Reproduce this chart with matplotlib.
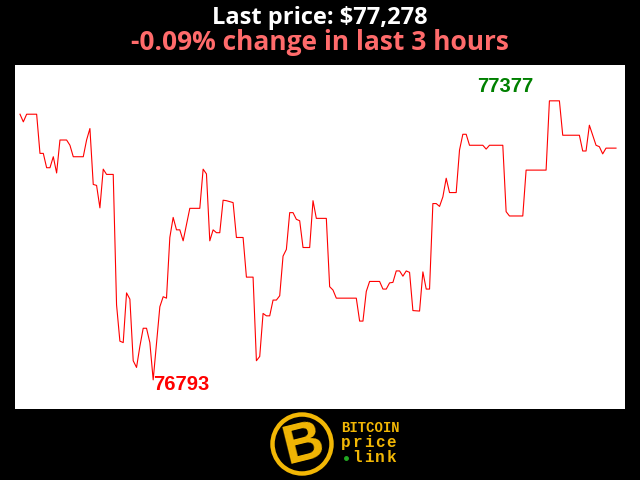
import matplotlib
matplotlib.use('Agg')
import matplotlib.pyplot as plt
from matplotlib.patches import Circle

# BTC price over the last 3 hours (minute index, price) at the turning points
minutes = [0, 1, 2, 5, 6, 7, 8, 9, 10, 11, 12, 14, 15, 16, 19, 20, 21, 22, 23, 24,
           25, 26, 28, 29, 30, 31, 32, 33, 34, 35, 36, 37, 38, 39, 40, 42, 43, 44, 45, 46,
           47, 48, 49, 51, 54, 55, 56, 57, 58, 59, 60, 61, 62, 64, 65, 67, 68, 70, 71, 72,
           73, 74, 75, 76, 77, 78, 79, 80, 81, 82, 83, 84, 85, 87, 88, 89, 92, 93, 94, 95,
           101, 102, 103, 104, 105, 108, 109, 110, 111, 112, 113, 114, 115, 116, 117, 118, 120, 121, 122, 123,
           124, 125, 126, 127, 128, 129, 131, 132, 133, 134, 135, 139, 140, 141, 145, 146, 147, 151, 152, 158,
           159, 162, 163, 168, 169, 170, 171, 173, 174, 175, 176, 179]
prices = [77349, 77333, 77349, 77349, 77267, 77267, 77237, 77237, 77260, 77226, 77295, 77295, 77284, 77260, 77260, 77295, 77319, 77202, 77200, 77153,
          77234, 77223, 77223, 76950, 76874, 76871, 76975, 76962, 76833, 76819, 76863, 76901, 76901, 76871, 76793, 76946, 76967, 76964, 77091, 77133,
          77107, 77107, 77084, 77152, 77152, 77234, 77224, 77084, 77107, 77101, 77101, 77169, 77168, 77164, 77091, 77091, 77008, 77008, 76833, 76842,
          76932, 76927, 76927, 76960, 76960, 76969, 77052, 77066, 77143, 77143, 77129, 77126, 77070, 77070, 77168, 77131, 77131, 76988, 76981, 76964,
          76964, 76916, 76916, 76978, 76999, 76999, 76983, 76983, 76996, 76997, 77021, 77021, 77010, 77021, 77018, 76938, 76937, 77019, 76983, 76983,
          77162, 77162, 77156, 77176, 77215, 77185, 77185, 77274, 77307, 77307, 77284, 77284, 77276, 77284, 77284, 77145, 77136, 77136, 77232, 77232,
          77377, 77377, 77305, 77305, 77272, 77272, 77326, 77284, 77281, 77266, 77278, 77278]

last_price = 77278
change_pct = -0.09
hi_price = 77377
lo_price = 76793

fig = plt.figure(figsize=(6.4, 4.8), dpi=100, facecolor='black')
ax = fig.add_axes([15 / 640, 1 - 409 / 480, 610 / 640, 344 / 480])
ax.set_facecolor('white')
ax.plot(minutes, prices, color='red', linewidth=0.8)
ax.set_xlim(-1.5, 181.7)
ax.set_ylim(76732, 77452)
ax.set_xticks([])
ax.set_yticks([])
for s in ax.spines.values():
    s.set_visible(False)

ax.text(137.2, 77395, str(hi_price), color='green', fontsize=14.5, fontweight='bold',
        family='Liberation Sans', ha='left', va='baseline')
ax.text(40, 76772, str(lo_price), color='red', fontsize=14.5, fontweight='bold',
        family='Liberation Sans', ha='left', va='baseline')

fig.text(0.5, 1 - 24 / 480, 'Last price: ${:,}'.format(last_price), color='white',
         fontsize=17, fontweight='bold', family='Open Sans', ha='center', va='baseline')
fig.text(0.5, 1 - 50 / 480, '{:.2f}% change in last 3 hours'.format(change_pct), color='#ff6b6b',
         fontsize=19, fontweight='bold', family='Open Sans', ha='center', va='baseline')

# logo
gold = '#f2b705'
lx = fig.add_axes([0, 0, 1, 1], facecolor='none')
lx.set_xlim(0, 640)
lx.set_ylim(480, 0)
lx.axis('off')
lx.add_patch(Circle((302, 444), 29.5, fill=False, edgecolor=gold, linewidth=3.2))
lx.text(303, 446, 'B', color=gold, fontsize=40, fontweight='bold', family='Liberation Sans',
        ha='center', va='center', rotation=14)
lx.text(341, 432, 'BITCOIN', color=gold, fontsize=10, fontweight='bold', family='Liberation Mono',
        ha='left', va='baseline')
for i, ch in enumerate('price'):
    lx.text(341 + i * 11.4, 447, ch, color=gold, fontsize=11.5, fontweight='bold',
            family='Liberation Mono', ha='left', va='baseline')
for i, ch in enumerate('link'):
    lx.text(352.4 + i * 11.4, 462, ch, color=gold, fontsize=11.5, fontweight='bold',
            family='Liberation Mono', ha='left', va='baseline')
lx.plot([346], [458], marker='o', markersize=2.5, color='#22aa22')

fig.savefig('out.png', dpi=100, facecolor='black')
